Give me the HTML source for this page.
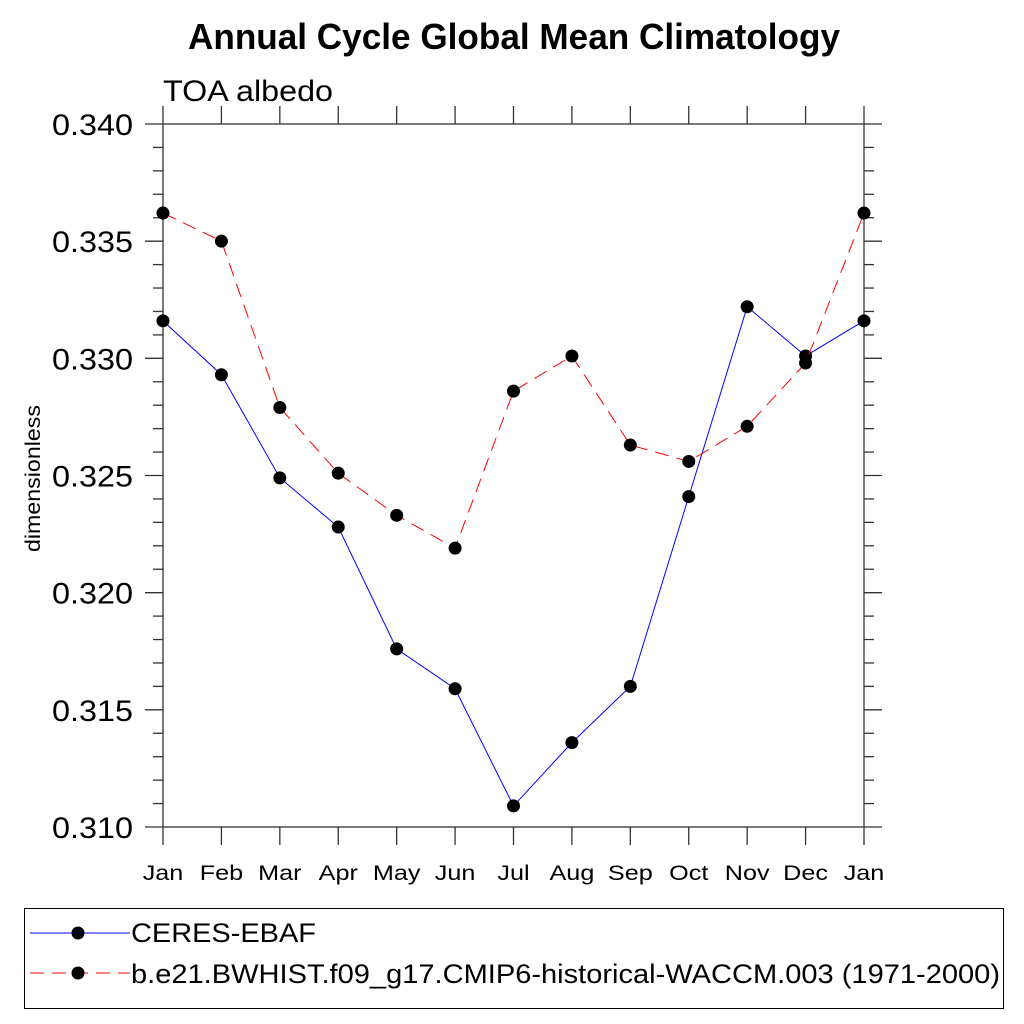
<!DOCTYPE html>
<html><head><meta charset="utf-8"><style>
html,body{margin:0;padding:0;background:#fff;width:1024px;height:1024px;overflow:hidden}
svg{font-family:"Liberation Sans",sans-serif}
</style></head><body>
<svg id="chart" width="1024" height="1024" xmlns="http://www.w3.org/2000/svg">
<text x="188" y="49" font-size="36" font-weight="bold" textLength="652" lengthAdjust="spacingAndGlyphs">Annual Cycle Global Mean Climatology</text>
<text x="163" y="101" font-size="30" textLength="170" lengthAdjust="spacingAndGlyphs">TOA albedo</text>
<text transform="translate(40,552) rotate(-90)" font-size="21" textLength="147" lengthAdjust="spacingAndGlyphs">dimensionless</text>
<g id="axes"></g>
<g id="series"></g>
<rect x="24.5" y="908.5" width="979" height="100" fill="none" stroke="#000" stroke-width="1"/>
<line x1="30" y1="933" x2="130" y2="933" stroke="#0000ff" stroke-width="1"/>
<circle cx="78" cy="933" r="6.5" fill="#000"/>
<text x="131" y="942" font-size="27" textLength="185" lengthAdjust="spacingAndGlyphs">CERES-EBAF</text>
<line x1="30" y1="973" x2="130" y2="973" stroke="#ff0000" stroke-width="1" stroke-dasharray="14,8"/>
<circle cx="78" cy="973" r="6.5" fill="#000"/>
<text x="131" y="983" font-size="27" textLength="869" lengthAdjust="spacingAndGlyphs">b.e21.BWHIST.f09_g17.CMIP6-historical-WACCM.003 (1971-2000)</text>
</svg>
<script>
const months = ["Jan","Feb","Mar","Apr","May","Jun","Jul","Aug","Sep","Oct","Nov","Dec","Jan"];
const ceres = [0.3316,0.3293,0.3249,0.3228,0.3176,0.3159,0.3109,0.3136,0.3160,0.3241,0.3322,0.3301,0.3316];
const model = [0.3362,0.3350,0.3279,0.3251,0.3233,0.3219,0.3286,0.3301,0.3263,0.3256,0.3271,0.3298,0.3362];
const yTicks = [0.310,0.315,0.320,0.325,0.330,0.335,0.340];
const yTickLabels = ["0.310","0.315","0.320","0.325","0.330","0.335","0.340"];
const X0=163,X1=864,Y0=827,Y1=124,YMIN=0.310,YMAX=0.340;
function xs(i){return X0+(X1-X0)*i/(months.length-1);}
function ys(v){return Y0-(v-YMIN)/(YMAX-YMIN)*(Y0-Y1);}
const NS="http://www.w3.org/2000/svg";
function mk(tag,attrs,parent){const e=document.createElementNS(NS,tag);for(const k in attrs)e.setAttribute(k,attrs[k]);parent.appendChild(e);return e;}
const ax=document.getElementById('axes');
const frame=mk('rect',{x:X0,y:Y1,width:X1-X0,height:Y0-Y1,fill:'none',stroke:'#333','stroke-width':1.3},ax);


months.forEach((m,i)=>{
  const x=xs(i);
  const t1=mk('line',{x1:x,y1:Y0,x2:x,y2:Y0+18,stroke:'#333','stroke-width':1.3},ax);
  
  
  const t2=mk('line',{x1:x,y1:Y1,x2:x,y2:Y1-18,stroke:'#333','stroke-width':1.3},ax);
  
  
  const tl=mk('text',{x:0,y:0,'text-anchor':'middle','font-size':21,transform:'translate('+x+',880) scale(1.2,1)'},ax);
  tl.textContent=m;
  
  
});
for(let k=0;k<=30;k++){
  const v=YMIN+k*0.001,y=ys(v),major=k%5===0,len=major?18:10;
  const a=mk('line',{x1:X0-len,y1:y,x2:X0,y2:y,stroke:'#333','stroke-width':1.3},ax);
  
  
  const b=mk('line',{x1:X1,y1:y,x2:X1+len,y2:y,stroke:'#333','stroke-width':1.3},ax);
  
  
}
yTicks.forEach((v,i)=>{
  const t=mk('text',{x:52,y:ys(v)+11,'font-size':30,textLength:81,lengthAdjust:'spacingAndGlyphs'},ax);
  t.textContent=yTickLabels[i];
  
  
});
const sg=document.getElementById('series');
function draw(vals,color,dash,name){
  const pts=vals.map((v,i)=>xs(i)+','+ys(v)).join(' ');
  const pl=mk('polyline',{points:pts,fill:'none',stroke:color,'stroke-width':1,'stroke-dasharray':dash},sg);
  
  
  vals.forEach((v,i)=>{
    const c=mk('circle',{cx:xs(i),cy:ys(v),r:6.5,fill:'#000'},sg);
    
    
  });
}
draw(ceres,'#0000ff','none','ceres');
draw(model,'#ff0000','14,8','model');
</script>
</body></html>
